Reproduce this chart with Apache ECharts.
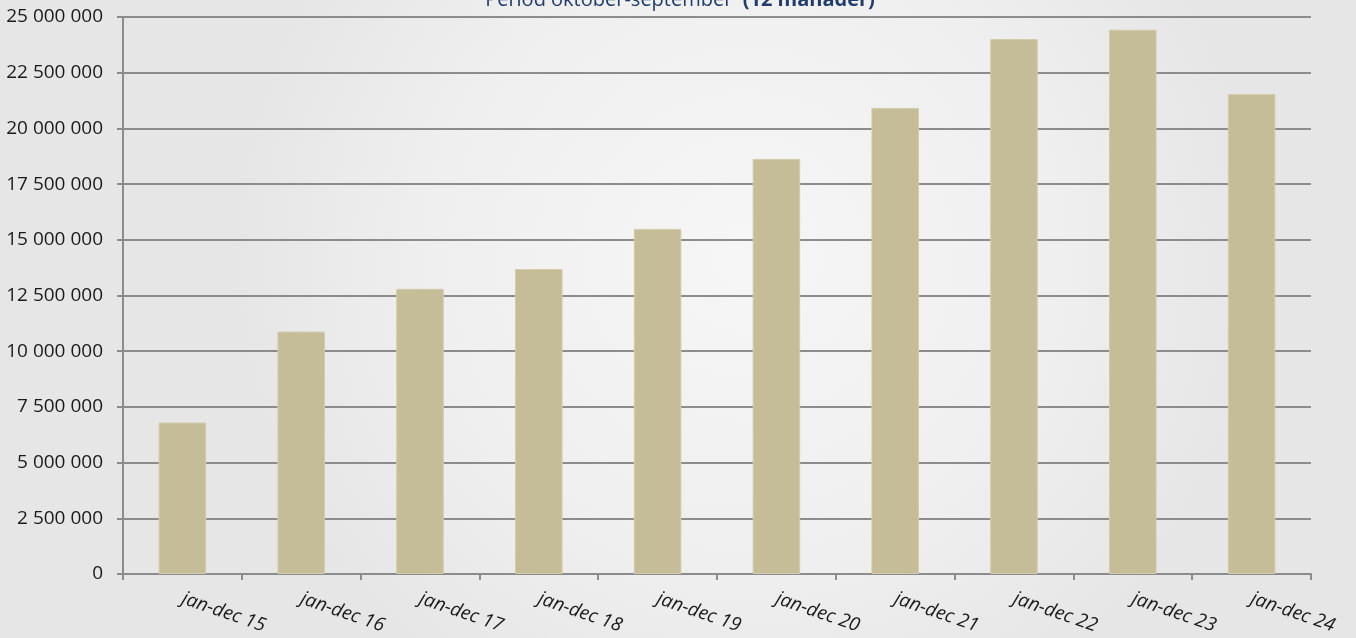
<!DOCTYPE html>
<html>
<head>
<meta charset="utf-8">
<script src="https://cdn.jsdelivr.net/npm/echarts@6/dist/echarts.min.js"></script>
<style>
  html, body { margin: 0; padding: 0; }
  #main { width: 1356px; height: 638px; }
</style>
</head>
<body>
<div id="main"></div>
<script>
// data
var categories = ['jan-dec 15', 'jan-dec 16', 'jan-dec 17', 'jan-dec 18', 'jan-dec 19',
                  'jan-dec 20', 'jan-dec 21', 'jan-dec 22', 'jan-dec 23', 'jan-dec 24'];
var values = [6800000, 10880000, 12800000, 13690000, 15490000,
              18630000, 20920000, 24010000, 24430000, 21540000];
var yTicks = { min: 0, max: 25000000, step: 2500000 };

var chartDom = document.getElementById('main');
var myChart = echarts.init(chartDom);
var option;

function fmt(v) {
  return String(v).replace(/\B(?=(\d{3})+(?!\d))/g, ' ');
}

option = {
  backgroundColor: {
    type: 'radial', x: 0.55, y: 0.4, r: 0.8,
    colorStops: [
      { offset: 0, color: '#f6f6f6' },
      { offset: 0.6, color: '#efefef' },
      { offset: 1, color: '#e6e6e6' }
    ]
  },
  textStyle: { fontFamily: 'Open Sans' },
  title: {
    text: 'Period oktober-september  {b|(12 månader)}',
    left: 680,
    textAlign: 'center',
    top: -10,
    padding: 0,
    textStyle: {
      fontSize: 20,
      fontWeight: 'normal',
      color: '#1f3c6b',
      rich: { b: { fontSize: 20, fontWeight: 'bold', color: '#1f3c6b' } }
    }
  },
  grid: { left: 123, right: 45, top: 17, bottom: 64, containLabel: false },
  xAxis: {
    type: 'category',
    data: categories,
    axisLine: { lineStyle: { color: '#8c8c8c', width: 2 } },
    axisTick: { show: true, length: 6, lineStyle: { color: '#8c8c8c', width: 2 } },
    axisLabel: {
      rotate: -19,
      margin: 24,
      fontSize: 19,
      fontStyle: 'italic',
      color: '#1a1a1a',
      interval: 0
    }
  },
  yAxis: {
    type: 'value',
    min: yTicks.min,
    max: yTicks.max,
    interval: yTicks.step,
    axisLine: { show: true, lineStyle: { color: '#8c8c8c', width: 2 } },
    axisTick: { show: true, length: 6, lineStyle: { color: '#8c8c8c', width: 2 } },
    splitLine: { lineStyle: { color: '#8c8c8c', width: 2 } },
    axisLabel: {
      fontSize: 19,
      color: '#1a1a1a',
      margin: 20,
      formatter: fmt
    }
  },
  series: [{
    type: 'bar',
    data: values,
    barWidth: '40%',
    itemStyle: { color: '#c4bd97', borderColor: '#d2ccac', borderWidth: 1 },
    animation: false
  }]
};
option && myChart.setOption(option);
</script>
</body>
</html>
